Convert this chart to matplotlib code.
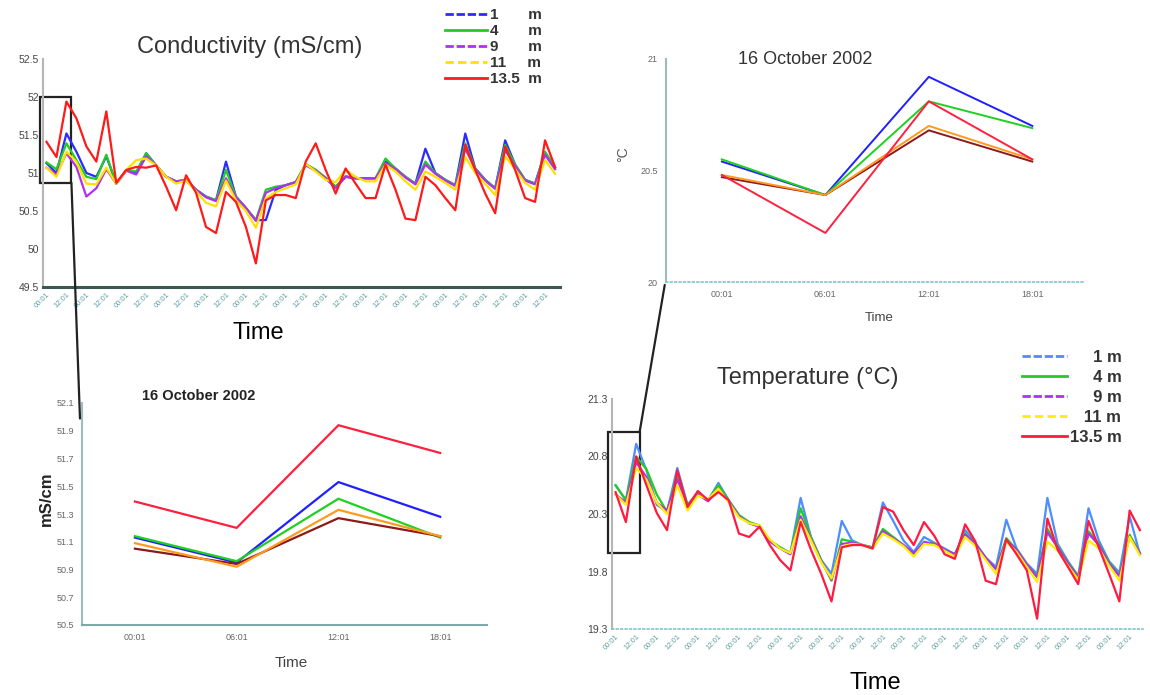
import matplotlib
matplotlib.use("Agg")
import matplotlib.pyplot as plt
from matplotlib.lines import Line2D
from matplotlib.patches import Rectangle, ConnectionPatch

plt.rcParams['font.family'] = ['Liberation Sans', 'DejaVu Sans']

# ---- data ----
depths = ["1 m", "4 m", "9 m", "11 m", "13.5 m"]
hours = ["00:01", "06:01", "12:01", "18:01"]
times = hours * 13          # 16-28 October 2002, every 6 h

cond_1m = [51.13, 51.00, 51.52, 51.28, 51.00, 50.95, 51.22, 50.86, 51.04, 51.00, 51.26, 51.10, 50.95,
           50.89, 50.91, 50.78, 50.69, 50.64, 51.15, 50.69, 50.54, 50.38, 50.38, 50.78, 50.84, 50.88,
           51.11, 51.04, 50.93, 50.82, 50.95, 50.93, 50.93, 50.93, 51.15, 51.06, 50.95, 50.86, 51.32,
           51.00, 50.91, 50.84, 51.52, 51.06, 50.91, 50.80, 51.43, 51.11, 50.91, 50.86, 51.27, 51.07]
cond_4m = [51.14, 51.05, 51.39, 51.17, 50.95, 50.92, 51.24, 50.86, 51.04, 51.02, 51.26, 51.10, 50.95,
           50.89, 50.91, 50.78, 50.69, 50.64, 51.04, 50.69, 50.54, 50.38, 50.78, 50.82, 50.84, 50.88,
           51.12, 51.04, 50.94, 50.82, 50.96, 50.93, 50.93, 50.93, 51.19, 51.06, 50.95, 50.86, 51.15,
           51.00, 50.91, 50.84, 51.39, 51.06, 50.91, 50.80, 51.37, 51.11, 50.91, 50.86, 51.28, 51.07]
cond_9m = [51.07, 50.98, 51.26, 51.08, 50.69, 50.80, 51.05, 50.86, 51.03, 50.98, 51.22, 51.10, 50.95,
           50.89, 50.90, 50.78, 50.68, 50.63, 50.93, 50.68, 50.54, 50.37, 50.74, 50.80, 50.84, 50.88,
           51.10, 51.03, 50.93, 50.80, 50.95, 50.93, 50.93, 50.93, 51.13, 51.05, 50.94, 50.85, 51.11,
           50.99, 50.90, 50.83, 51.32, 51.05, 50.90, 50.79, 51.30, 51.09, 50.90, 50.85, 51.24, 51.05]
cond_11m = [51.07, 50.95, 51.28, 51.15, 50.86, 50.85, 51.07, 50.86, 51.04, 51.17, 51.19, 51.10, 50.95,
            50.86, 50.90, 50.76, 50.61, 50.56, 50.90, 50.64, 50.50, 50.28, 50.67, 50.75, 50.80, 50.85,
            51.12, 51.02, 50.91, 50.88, 51.04, 50.95, 50.89, 50.89, 51.11, 51.02, 50.89, 50.78, 51.02,
            50.95, 50.87, 50.78, 51.21, 51.00, 50.86, 50.71, 51.22, 51.05, 50.87, 50.78, 51.17, 50.99]
cond_13m = [51.41, 51.21, 51.94, 51.72, 51.35, 51.15, 51.81, 50.87, 51.04, 51.08, 51.07, 51.10, 50.82,
            50.51, 50.97, 50.74, 50.29, 50.21, 50.75, 50.62, 50.29, 49.81, 50.64, 50.71, 50.71, 50.67,
            51.15, 51.39, 51.04, 50.73, 51.06, 50.86, 50.67, 50.67, 51.11, 50.78, 50.40, 50.38, 50.95,
            50.84, 50.67, 50.51, 51.37, 51.04, 50.73, 50.47, 51.35, 51.04, 50.67, 50.62, 51.43, 51.08]

temp_1m = [20.55, 20.42, 20.91, 20.68, 20.38, 20.32, 20.70, 20.38, 20.49, 20.42, 20.57, 20.42, 20.29,
           20.22, 20.19, 20.07, 20.01, 19.96, 20.44, 20.10, 19.90, 19.78, 20.24, 20.07, 20.03, 20.01,
           20.40, 20.24, 20.07, 19.97, 20.10, 20.05, 20.00, 19.95, 20.16, 20.05, 19.92, 19.84, 20.25,
           20.00, 19.87, 19.78, 20.44, 20.04, 19.89, 19.76, 20.35, 20.07, 19.89, 19.79, 20.28, 19.95]
temp_4m = [20.55, 20.42, 20.80, 20.69, 20.47, 20.32, 20.64, 20.38, 20.47, 20.42, 20.55, 20.42, 20.29,
           20.23, 20.20, 20.07, 20.01, 19.96, 20.35, 20.10, 19.90, 19.72, 20.08, 20.06, 20.03, 20.01,
           20.17, 20.10, 20.03, 19.94, 20.06, 20.04, 19.99, 19.95, 20.13, 20.04, 19.92, 19.82, 20.09,
           19.99, 19.86, 19.76, 20.17, 20.02, 19.88, 19.76, 20.15, 20.04, 19.88, 19.77, 20.12, 19.96]
temp_9m = [20.47, 20.40, 20.75, 20.62, 20.40, 20.33, 20.60, 20.37, 20.47, 20.41, 20.52, 20.41, 20.28,
           20.22, 20.19, 20.06, 20.00, 19.95, 20.28, 20.08, 19.89, 19.73, 20.04, 20.05, 20.03, 20.00,
           20.15, 20.09, 20.03, 19.96, 20.05, 20.04, 19.99, 19.95, 20.12, 20.04, 19.92, 19.82, 20.07,
           19.99, 19.86, 19.75, 20.14, 20.01, 19.87, 19.75, 20.13, 20.03, 19.87, 19.76, 20.10, 19.96]
temp_11m = [20.47, 20.38, 20.70, 20.60, 20.40, 20.30, 20.55, 20.33, 20.46, 20.43, 20.52, 20.40, 20.27,
            20.22, 20.20, 20.08, 20.00, 19.96, 20.25, 20.07, 19.88, 19.74, 20.02, 20.04, 20.03, 20.00,
            20.13, 20.08, 20.02, 19.93, 20.04, 20.03, 19.98, 19.93, 20.10, 20.02, 19.90, 19.78, 20.06,
            19.97, 19.84, 19.71, 20.06, 19.98, 19.85, 19.73, 20.07, 20.00, 19.85, 19.72, 20.10, 19.94]
temp_13m = [20.49, 20.23, 20.80, 20.55, 20.31, 20.16, 20.68, 20.36, 20.50, 20.42, 20.49, 20.42, 20.13,
            20.10, 20.19, 20.03, 19.90, 19.81, 20.23, 19.99, 19.78, 19.54, 20.01, 20.03, 20.03, 20.00,
            20.36, 20.32, 20.16, 20.03, 20.23, 20.11, 19.95, 19.91, 20.21, 20.06, 19.72, 19.69, 20.08,
            19.95, 19.81, 19.39, 20.26, 19.99, 19.84, 19.69, 20.24, 20.01, 19.78, 19.54, 20.33, 20.16]

# zoomed panels, 16 October 2002
zcond = {"1 m": [51.13, 50.95, 51.53, 51.28], "4 m": [51.14, 50.96, 51.41, 51.13],
         "9 m": [51.05, 50.94, 51.27, 51.14], "11 m": [51.09, 50.92, 51.33, 51.14],
         "13.5 m": [51.39, 51.20, 51.94, 51.74]}
ztemp = {"1 m": [20.54, 20.39, 20.92, 20.70], "4 m": [20.55, 20.39, 20.81, 20.69],
         "9 m": [20.47, 20.39, 20.68, 20.54], "11 m": [20.48, 20.39, 20.70, 20.55],
         "13.5 m": [20.48, 20.22, 20.81, 20.55]}

cond_colors = ["#2b2bff", "#22cc22", "#b030f0", "#ffe000", "#ff1a1a"]
temp_colors = ["#4d8dff", "#22cc22", "#b030f0", "#ffee00", "#ff1a40"]
zoom_colors = ["#2020ff", "#20d020", "#8b1a1a", "#ff9a20", "#ff2040"]
key_styles = [(0, (3, 1)), "-", (0, (3, 1)), (0, (3, 1.5)), "-"]

W, H = 1150, 695
fig = plt.figure(figsize=(W / 100, H / 100), dpi=100)


def box(l, t, r, b):
    return [l / W, 1 - b / H, (r - l) / W, (b - t) / H]


def ftext(x, y, s, **kw):
    fig.text(x / W, 1 - y / H, s, ha="center", va="center", **kw)


def main_axes(ax, xmax, ylim, yticks, bottom_ls):
    ax.set_xlim(-0.35, xmax)
    ax.set_ylim(*ylim)
    ax.set_yticks(yticks)
    ax.set_yticklabels(["%g" % v for v in yticks])
    ax.set_xticks(range(0, len(times), 2))
    ax.set_xticklabels(times[::2], rotation=45, ha="right", rotation_mode="anchor")
    ax.tick_params(axis="x", length=0, labelsize=5.5, labelcolor="#5f9ea0", pad=3)
    ax.tick_params(axis="y", length=0, labelsize=7.5, labelcolor="#444444", pad=3)
    for s in ("top", "right"):
        ax.spines[s].set_visible(False)
    ax.spines["left"].set_color("#b5b5b5")
    ax.spines["left"].set_linewidth(1.5)
    ax.spines["bottom"].set_linewidth(2.2 if bottom_ls == "-" else 1.2)
    ax.spines["bottom"].set_color("#3d5656" if bottom_ls == "-" else "#7fc7c7")
    ax.spines["bottom"].set_linestyle(bottom_ls)


def zoom_axes(ax, ylim, yticks, ylabels):
    ax.set_ylim(*ylim)
    ax.set_yticks(yticks)
    ax.set_yticklabels(ylabels)
    ax.set_xticks(range(4))
    ax.set_xticklabels(hours)
    ax.tick_params(length=0, labelsize=6.5, labelcolor="#666666", pad=6)
    for s in ("top", "right"):
        ax.spines[s].set_visible(False)
    ax.spines["left"].set_color("#9fbcbc")
    ax.spines["left"].set_linewidth(1.5)


def key(colors):
    return [Line2D([], [], color=c, lw=2, ls=s) for c, s in zip(colors, key_styles)]


# ---- conductivity (top left) ----
axA = fig.add_axes(box(43, 59, 560, 287))
idx = range(len(times))
for vals, col in zip([cond_1m, cond_4m, cond_9m, cond_11m, cond_13m], cond_colors):
    axA.plot(idx, vals, color=col, lw=1.6)
main_axes(axA, 51.5, (49.5, 52.5), [49.5, 50, 50.5, 51, 51.5, 52, 52.5], "-")
ftext(250, 47, "Conductivity (mS/cm)", fontsize=17, color="#333333")
ftext(258, 333, "Time", fontsize=17, color="black")
labA = ["1       m", "4       m", "9       m", "11     m", "13.5  m"]
legA = fig.legend(key(cond_colors), labA, loc="upper left", bbox_to_anchor=(445 / W, 1 - 8 / H),
                  frameon=False, prop={"size": 11, "weight": "bold"}, handlelength=2.75,
                  handletextpad=0.2, labelspacing=0.13, borderaxespad=0, borderpad=0)
for t in legA.get_texts():
    t.set_color("#333333")

# ---- temperature (bottom right) ----
axD = fig.add_axes(box(612, 399, 1143, 629))
for vals, col in zip([temp_1m, temp_4m, temp_9m, temp_11m, temp_13m], temp_colors):
    axD.plot(idx, vals, color=col, lw=1.6)
main_axes(axD, 51.3, (19.3, 21.3), [19.3, 19.8, 20.3, 20.8, 21.3], ":")
ftext(808, 378, "Temperature (\u00b0C)", fontsize=17, color="#333333")
ftext(875, 683, "Time", fontsize=17, color="black")
labD = ["     1 m", "     4 m", "     9 m", "   11 m", "13.5 m"]
legD = fig.legend(key(temp_colors), labD, loc="upper left", bbox_to_anchor=(1022 / W, 1 - 350 / H),
                  frameon=False, prop={"size": 12, "weight": "bold"}, handlelength=2.7,
                  handletextpad=0.2, labelspacing=0.3, borderaxespad=0, borderpad=0)
for t in legD.get_texts():
    t.set_color("#333333")

# ---- conductivity zoom (bottom left) ----
axC = fig.add_axes(box(82, 403, 487, 625))
for d, col in zip(depths, zoom_colors):
    axC.plot(range(4), zcond[d], color=col, lw=1.6)
axC.set_xlim(-0.52, 3.46)
ctk = [50.5, 50.7, 50.9, 51.1, 51.3, 51.5, 51.7, 51.9, 52.1]
zoom_axes(axC, (50.5, 52.1), ctk, ["%.1f" % v for v in ctk])
axC.spines["bottom"].set_color("#7fa8a8")
axC.spines["bottom"].set_linewidth(1.5)
ftext(199, 396, "16 October 2002", fontsize=10.5, fontweight="bold", color="#222222")
ftext(46, 499, "mS/cm", fontsize=12, fontweight="bold", rotation=90, color="#222222")
ftext(291, 663, "Time", fontsize=11, color="#444444")

# ---- temperature zoom (top right) ----
axB = fig.add_axes(box(666, 59, 1083, 282))
for d, col in zip(depths, zoom_colors):
    axB.plot(range(4), ztemp[d], color=col, lw=1.4)
axB.set_xlim(-0.54, 3.49)
zoom_axes(axB, (20, 21), [20, 20.5, 21], ["20", "20.5", "21"])
axB.spines["bottom"].set_color("#7fc7c7")
axB.spines["bottom"].set_linestyle(":")
axB.spines["bottom"].set_linewidth(1.2)
ftext(805, 60, "16 October 2002", fontsize=13, color="#333333")
ftext(623, 154, "\u00b0C", fontsize=10, rotation=90, color="#555555")
ftext(879, 318, "Time", fontsize=9.5, color="#444444")

# ---- zoom boxes and connectors ----
axA.add_patch(Rectangle((-0.7, 50.87), 3.2, 1.13, fill=False, ec="#222222", lw=1.6, clip_on=False))
axD.add_patch(Rectangle((-0.78, 19.96), 3.11, 1.05, fill=False, ec="#222222", lw=1.6, clip_on=False))
for pA, pC in [((-0.7, 50.87), (-0.005, 0.01)), ((2.5, 50.87), (-0.005, 0.93))]:
    fig.add_artist(ConnectionPatch(pA, pC, coordsA="data", coordsB="axes fraction",
                                   axesA=axA, axesB=axC, color="#222222", lw=1.6,
                                   annotation_clip=False))
for pD, pB in [((-0.78, 21.01), (0.0, 1.0)), ((2.33, 21.01), (-0.003, -0.013))]:
    fig.add_artist(ConnectionPatch(pD, pB, coordsA="data", coordsB="axes fraction",
                                   axesA=axD, axesB=axB, color="#222222", lw=1.6,
                                   annotation_clip=False))

fig.savefig("out.png", dpi=100)
